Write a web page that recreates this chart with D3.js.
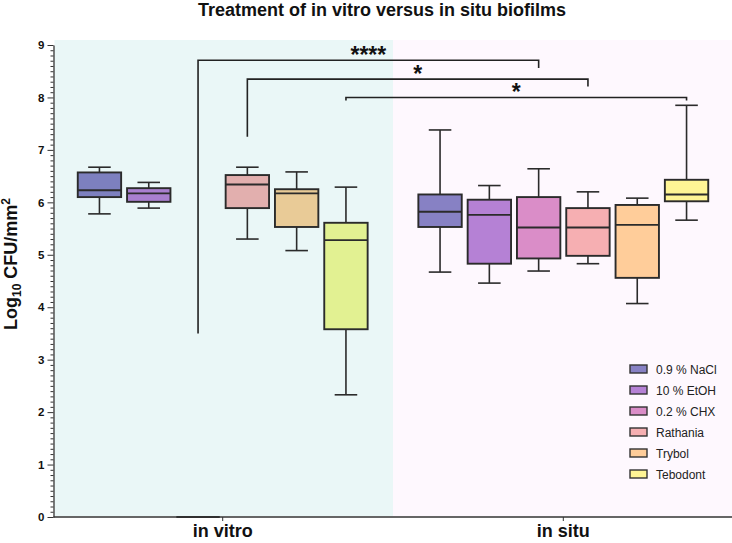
<!DOCTYPE html>
<html>
<head>
<meta charset="utf-8">
<script src="https://cdn.jsdelivr.net/npm/d3@7"></script>
<style>
  html, body { margin: 0; padding: 0; background: #fff; }
  svg { display: block; font-family: "Liberation Sans", Arial, sans-serif; }
</style>
</head>
<body>
<svg id="chart" width="732" height="543"></svg>
<script>
// ---------- data ----------
const groups = ["in vitro", "in situ"];
const treatments = ["0.9 % NaCl", "10 % EtOH", "0.2 % CHX", "Rathania", "Trybol", "Tebodont"];

const vitroMin = [5.78, 5.89, 0, 5.30, 5.08, 2.33];
const vitroQ1  = [6.10, 6.01, 0, 5.89, 5.53, 3.58];
const vitroMed = [6.23, 6.17, 0, 6.34, 6.17, 5.28];
const vitroQ3  = [6.57, 6.27, 0, 6.52, 6.25, 5.61];
const vitroMax = [6.67, 6.38, 0, 6.67, 6.58, 6.29];

const situMin = [4.67, 4.46, 4.69, 4.83, 4.07, 5.66];
const situQ1  = [5.53, 4.83, 4.93, 4.98, 4.56, 6.02];
const situMed = [5.82, 5.76, 5.52, 5.52, 5.57, 6.15];
const situQ3  = [6.15, 6.05, 6.10, 5.89, 5.95, 6.43];
const situMax = [7.38, 6.32, 6.64, 6.20, 6.08, 7.85];

const yTicks = [0, 1, 2, 3, 4, 5, 6, 7, 8, 9];

// significance brackets (in vitro treatment -> in situ treatment)
const sigLabels   = ["****", "*", "*"];
const sigFrom     = ["0.2 % CHX", "Rathania", "Tebodont"];
const sigTo       = ["0.2 % CHX", "Rathania", "Tebodont"];
const sigLevel    = [8.71, 8.35, 8.00];
const sigLeftEnd  = [3.50, 7.25, 7.94];
const sigRightEnd = [8.56, 8.21, 7.94];

// ---------- styles ----------
const vitroColors = ["#7d80bf", "#a97fcf", "#d88cc8", "#e2afae", "#e9cb97", "#e2f192"];
const situColors  = ["#8781c4", "#b581d5", "#da8dc8", "#f6afb2", "#ffcd9a", "#fff595"];
const bgColors    = ["#eaf7f7", "#fef8fe"];

// ---------- build ----------
const svg = d3.select("#chart");
const plotTop = 45, plotBottom = 517, plotLeft = 53.5, plotRight = 732;

const y = d3.scaleLinear().domain([0, 9]).range([plotBottom, plotTop]);
const x = d3.scaleBand().domain(groups).range([52.4, 733.6]);
const inner = d3.scaleBand().domain(treatments)
  .range([-147.9, 147.9]).paddingInner(0.12).paddingOuter(0.06);
const bw = inner.bandwidth();
const cx = (g, t) => x(g) + x.bandwidth() / 2 + inner(t) + bw / 2;

// backgrounds
svg.selectAll("rect.bg").data(groups).join("rect")
  .attr("class", "bg")
  .attr("x", (g, i) => i === 0 ? plotLeft + 1 : x(g))
  .attr("y", 40)
  .attr("width", (g, i) => i === 0 ? x(g) + x.bandwidth() - plotLeft - 1 : plotRight - x(g))
  .attr("height", plotBottom - 1 - 40)
  .attr("fill", (g, i) => bgColors[i]);

// assemble box data
const boxes = [];
treatments.forEach((t, i) => {
  boxes.push({g: "in vitro", t, min: vitroMin[i], q1: vitroQ1[i], med: vitroMed[i], q3: vitroQ3[i], max: vitroMax[i], color: vitroColors[i]});
  boxes.push({g: "in situ", t, min: situMin[i], q1: situQ1[i], med: situMed[i], q3: situQ3[i], max: situMax[i], color: situColors[i]});
});

const stroke = "#2b2b2b";
const capW = bw * 0.52;
const bg = svg.append("g").selectAll("g").data(boxes).join("g");
// whiskers
bg.append("line")
  .attr("x1", d => cx(d.g, d.t)).attr("x2", d => cx(d.g, d.t))
  .attr("y1", d => y(d.max)).attr("y2", d => y(d.q3))
  .attr("stroke", stroke).attr("stroke-width", 1.6);
bg.append("line")
  .attr("x1", d => cx(d.g, d.t)).attr("x2", d => cx(d.g, d.t))
  .attr("y1", d => y(d.q1)).attr("y2", d => y(d.min))
  .attr("stroke", stroke).attr("stroke-width", 1.6);
bg.append("line")
  .attr("x1", d => cx(d.g, d.t) - capW / 2).attr("x2", d => cx(d.g, d.t) + capW / 2)
  .attr("y1", d => y(d.max)).attr("y2", d => y(d.max))
  .attr("stroke", stroke).attr("stroke-width", 1.6);
bg.append("line")
  .attr("x1", d => cx(d.g, d.t) - capW / 2).attr("x2", d => cx(d.g, d.t) + capW / 2)
  .attr("y1", d => y(d.min)).attr("y2", d => y(d.min))
  .attr("stroke", stroke).attr("stroke-width", 1.6);
// box
bg.append("rect")
  .attr("x", d => cx(d.g, d.t) - bw / 2)
  .attr("y", d => y(d.q3))
  .attr("width", bw)
  .attr("height", d => y(d.q1) - y(d.q3))
  .attr("fill", d => d.color)
  .attr("stroke", stroke).attr("stroke-width", 1.9);
// median
bg.append("line")
  .attr("x1", d => cx(d.g, d.t) - bw / 2).attr("x2", d => cx(d.g, d.t) + bw / 2)
  .attr("y1", d => y(d.med)).attr("y2", d => y(d.med))
  .attr("stroke", stroke).attr("stroke-width", 1.9);

// y axis
const yAxisG = svg.append("g").attr("transform", `translate(${plotLeft},0)`);
const minor = d3.range(0, 90).map(v => v / 10).filter(v => !yTicks.includes(v));
yAxisG.call(d3.axisLeft(y).tickValues(minor).tickSize(3).tickFormat(""))
  .call(g => g.select(".domain").remove());
yAxisG.append("g").call(d3.axisLeft(y).tickValues(yTicks).tickSize(6).tickSizeOuter(0).tickPadding(3).tickFormat(d3.format("d")));
yAxisG.selectAll("line").attr("stroke", "#333").attr("stroke-width", 1);
yAxisG.selectAll(".domain").attr("stroke", "#333").attr("stroke-width", 1.3);
yAxisG.selectAll("text").attr("font-size", 11.5).attr("font-weight", "bold").attr("fill", "#111")
  .attr("font-family", "Liberation Sans, Arial, sans-serif");

// x axis
const xAxisG = svg.append("g").attr("transform", `translate(0,${plotBottom})`);
xAxisG.append("line").attr("x1", plotLeft).attr("x2", plotRight).attr("y1", 0).attr("y2", 0)
  .attr("stroke", "#333").attr("stroke-width", 1.3);
xAxisG.selectAll("line.tk").data(groups).join("line").attr("class", "tk")
  .attr("x1", g => x(g) + x.bandwidth() / 2).attr("x2", g => x(g) + x.bandwidth() / 2)
  .attr("y1", 0).attr("y2", 4).attr("stroke", "#333").attr("stroke-width", 1);
xAxisG.selectAll("text").data(groups).join("text")
  .attr("x", g => x(g) + x.bandwidth() / 2).attr("y", 20)
  .attr("text-anchor", "middle").attr("font-size", 18).attr("font-weight", "bold").attr("fill", "#111")
  .text(g => g);

// y label
const yl = svg.append("text")
  .attr("transform", "translate(17,264) rotate(-90)")
  .attr("text-anchor", "middle").attr("font-size", 18).attr("font-weight", "bold").attr("fill", "#111");
yl.append("tspan").text("Log");
yl.append("tspan").attr("font-size", 12).attr("dy", 4).text("10");
yl.append("tspan").attr("dy", -4).text(" CFU/mm");
yl.append("tspan").attr("font-size", 12).attr("dy", -7).text("2");

// title
svg.append("text").attr("x", 382).attr("y", 16).attr("text-anchor", "middle")
  .attr("font-size", 18).attr("font-weight", "bold").attr("fill", "#111")
  .text("Treatment of in vitro versus in situ biofilms");

// significance brackets
const sg = svg.append("g");
sigLabels.forEach((lab, i) => {
  const xl = cx("in vitro", sigFrom[i]);
  const xr = cx("in situ", sigTo[i]);
  const yy = y(sigLevel[i]);
  sg.append("path")
    .attr("d", `M${xl},${y(sigLeftEnd[i])}V${yy}H${xr}V${y(sigRightEnd[i])}`)
    .attr("fill", "none").attr("stroke", "#222").attr("stroke-width", 1.6);
  sg.append("text").attr("x", (xl + xr) / 2).attr("y", yy + 3)
    .attr("text-anchor", "middle").attr("font-size", 23).attr("font-weight", "bold").attr("fill", "#111")
    .text(lab);
});

// legend
const lg = svg.append("g").attr("transform", "translate(630,369)");
const li = lg.selectAll("g").data(treatments).join("g")
  .attr("transform", (d, i) => `translate(0,${i * 21})`);
li.append("rect").attr("x", 0).attr("y", -4).attr("width", 17).attr("height", 8)
  .attr("fill", (d, i) => situColors[i]).attr("stroke", "#333").attr("stroke-width", 1.4);
li.append("text").attr("x", 26).attr("y", 4.5).attr("font-size", 12).attr("fill", "#222").text(d => d);
</script>
</body>
</html>
